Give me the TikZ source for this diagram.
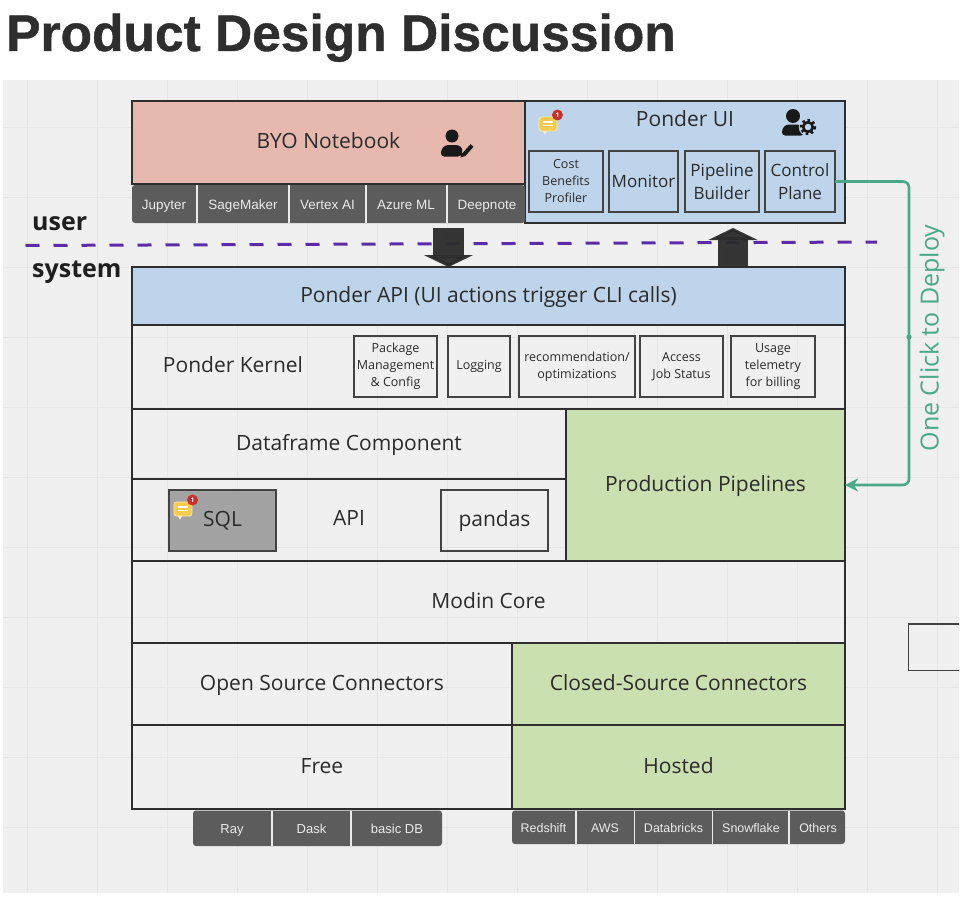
\documentclass[tikz,border=0pt]{standalone}
\usepackage{fontspec}
\setmainfont{Open Sans}
\newfontfamily\titlefont[BoldFeatures={FakeBold=0.8}]{Liberation Sans}
\newfontfamily\tabfont{Liberation Sans}
\usetikzlibrary{arrows.meta,calc}
\definecolor{canvas}{HTML}{F0F0F0}
\definecolor{gridc}{HTML}{E6E6E6}
\definecolor{edge}{HTML}{2E2E2E}
\definecolor{inkc}{HTML}{2B2B2B}
\definecolor{salmon}{HTML}{E6B8AE}
\definecolor{skyb}{HTML}{BDD4EB}
\definecolor{leaf}{HTML}{CBE0B0}
\definecolor{tabc}{HTML}{5C5C5C}
\definecolor{tabtxt}{HTML}{EBEBEB}
\definecolor{sqlc}{HTML}{A3A3A3}
\definecolor{teal}{HTML}{4BA888}
\definecolor{purp}{HTML}{5B2CA6}
\definecolor{yel}{HTML}{F7CB4D}
\definecolor{redb}{HTML}{C9302C}
\tikzset{
  x=1pt,y=-1pt,
  base/.style={anchor=north west,inner sep=0pt,outer sep=0pt,align=center,text=inkc},
  bigtxt/.style={font=\fontsize{21}{26}\selectfont,text height=16.5pt,text depth=3.5pt},
  boxedtxt/.style={font=\fontsize{21}{26}\selectfont,text height=15.5pt,text depth=4.5pt},
  section/.style={base,draw=edge,line width=2.5pt,bigtxt},
  sub/.style={base,draw=edge!90!white,line width=1.7pt},
  smalltxt/.style={font=\fontsize{12.5}{17}\selectfont},
  midtxt/.style={font=\fontsize{17}{23}\selectfont},
  free/.style={inner sep=0pt,text=inkc,bigtxt},
  tabtop/.style={anchor=base,inner sep=0pt,text=tabtxt,font=\tabfont\fontsize{13.5}{16}\selectfont},
  tableft/.style={anchor=base,inner sep=0pt,text=tabtxt,font=\tabfont\fontsize{13}{16}\selectfont},
  tabright/.style={anchor=base,inner sep=0pt,text=tabtxt,font=\tabfont\fontsize{12.5}{16}\selectfont},
  tabgap/.style={draw=tabtxt,line width=1.4pt},
  side/.style={anchor=base west,inner sep=0pt,text=black!88,font=\bfseries\fontsize{25}{30}\selectfont},
  block/.style={draw=inkc,line width=30.5pt,draw opacity=.95,fill opacity=.95},
  iconink/.style={fill=black!90}
}
\newcommand{\bx}[7]{%
  \pgfmathsetmacro{\bw}{#4-#2}\pgfmathsetmacro{\bh}{#5-#3}%
  \node[#6,minimum width=\bw pt,minimum height=\bh pt] (#1) at (#2,#3) {#7};}
\newcommand{\noteicon}[2]{%
  \begin{scope}[shift={(#1,#2)}]
    \fill[white!70!yel] (3,13) -- (9,13) -- (6,17.5) -- cycle;
    \fill[yel,draw=white!60!yel,line width=.8pt,rounded corners=2.5pt] (0,0) rectangle (18,14);
    \draw[white,line width=1.1pt] (4,5) -- (14,5) (4,8.5) -- (14,8.5);
    \fill[redb] (18.5,-2) circle (5.5);
    \node[inner sep=0pt,text=white,font=\bfseries\fontsize{6.5}{7}\selectfont] at (18.5,-2) {1};
  \end{scope}}
\begin{document}
\begin{tikzpicture}
\useasboundingbox (0,0) rectangle (964,899);
\fill[white] (0,0) rectangle (964,899);
\fill[canvas] (3,80) rectangle (959,893);
\foreach \gx in {27,97,...,937} \draw[gridc,line width=.8pt] (\gx,80) -- (\gx,893);
\foreach \gy in {127,197,...,827} \draw[gridc,line width=.8pt] (3,\gy) -- (959,\gy);

\node[anchor=base west,inner sep=0pt,text=black!82,font=\titlefont\bfseries\fontsize{51.5}{56}\selectfont] (title) at (6,51) {Product Design Discussion};

% boxes
\bx{byo}{132}{101}{525}{184}{section,fill=salmon}{}
\node[free] (byolabel) at (328.5,142) {BYO Notebook};
\bx{ui}{525}{101}{845}{223}{section,fill=skyb}{}
\node[free] (uilabel) at (685,120) {Ponder UI};
\bx{cost}{529}{151}{603}{212}{sub,smalltxt}{Cost\\Benefits\\Profiler}
\bx{mon}{609}{151}{678}{212}{sub,midtxt}{Monitor}
\bx{pipe}{685}{151}{759}{212}{sub,midtxt}{Pipeline\\Builder}
\bx{cp}{765}{151}{835}{212}{sub,midtxt}{Control\\Plane}

% tabs top
\fill[tabc,rounded corners=3pt] (132,185) rectangle (525,223);
\node[tabtop] (t1) at (164,209) {Jupyter};
\node[tabtop] (t2) at (243,209) {SageMaker};
\node[tabtop] (t3) at (327.5,209) {Vertex AI};
\node[tabtop] (t4) at (406,209) {Azure ML};
\node[tabtop] (t5) at (487,209) {Deepnote};
\foreach \sx in {197,289,366,447} \draw[tabgap] (\sx,185) -- (\sx,223);

\bx{api}{132}{267}{845}{325}{section,fill=skyb}{Ponder API (UI actions trigger CLI calls)}
\bx{kernel}{132}{325}{845}{409}{section}{}
\node[free] (kernellabel) at (233,366) {Ponder Kernel};
\bx{pkg}{354}{336}{437}{397}{sub,smalltxt}{Package\\Management\\\& Config}
\bx{log}{448}{336}{510}{397}{sub,smalltxt}{Logging}
\bx{rec}{519}{336}{635}{397}{sub,smalltxt}{recommendation/\\optimizations}
\bx{acc}{640}{336}{723}{397}{sub,smalltxt}{Access\\Job Status}
\bx{usage}{731}{336}{815}{397}{sub,smalltxt}{Usage\\telemetry\\for billing}
\bx{df}{132}{409}{566}{479}{section}{Dataframe Component}
\bx{apibox}{132}{479}{566}{561}{section,boxedtxt}{API}
\bx{sql}{169}{490}{276}{551}{sub,fill=sqlc,boxedtxt}{SQL}
\bx{pandas}{441}{490}{548}{551}{sub,boxedtxt}{pandas}
\bx{prod}{566}{409}{845}{561}{section,fill=leaf}{Production Pipelines}
\bx{modin}{132}{561}{845}{643}{section}{Modin Core}
\bx{oss}{132}{643}{512}{725}{section}{Open Source Connectors}
\bx{css}{512}{643}{845}{725}{section,fill=leaf}{Closed-Source Connectors}
\bx{free}{132}{725}{512}{809}{section}{Free}
\bx{hosted}{512}{725}{845}{809}{section,fill=leaf}{Hosted}
\draw[edge!90!white,line width=1.7pt] (959,624) -- (908.5,624) -- (908.5,670.5) -- (959,670.5);

% bottom tabs
\fill[tabc,rounded corners=3pt] (193,810.5) rectangle (442,846);
\node[tableft] (ray) at (232,833) {Ray};
\node[tableft] (dask) at (311.5,833) {Dask};
\node[tableft] (db) at (397,833) {basic DB};
\foreach \sx in {272,351} \draw[tabgap] (\sx,810.5) -- (\sx,846);
\fill[tabc,rounded corners=3pt] (512,810.5) rectangle (845,844);
\node[tabright] (rs) at (543.5,832) {Redshift};
\node[tabright] (aws) at (605,832) {AWS};
\node[tabright] (dbr) at (673.5,832) {Databricks};
\node[tabright] (sf) at (751,832) {Snowflake};
\node[tabright] (oth) at (818,832) {Others};
\foreach \sx in {576,634.5,712.5,789} \draw[tabgap] (\sx,810.5) -- (\sx,844);

% user / system
\draw[purp,line width=3pt,dash pattern=on 14pt off 14pt] (25.5,245.5) -- (877,242);
\node[side] (user) at (32,230) {user};
\node[side] (system) at (32,277.3) {system};

% block arrows
\coordinate (downstart) at (448.5,228);
\coordinate (upstart) at (733,267);
\draw[block,-{Triangle[length=12pt,width=49pt]}] (downstart) -- (downstart |- api.north);
\draw[block,-{Triangle[length=12pt,width=49pt]}] (upstart) -- (733,228);

% deploy connector
\coordinate (bendtop) at (909,181.5);
\coordinate (bendbot) at (909,485);
\draw[teal,line width=2.6pt,rounded corners=6pt,-{Stealth[length=13pt,width=13pt]}] (cp.east) -- (bendtop) -- (bendbot) -- (prod.east);
\fill[teal] (909,337) circle (2.6);
\node[rotate=90,inner sep=0pt,text=teal,font=\fontsize{25}{28}\selectfont] (deploy) at (932,338) {One Click to Deploy};

% icons
\fill[iconink] (452,136) circle (6.5);
\fill[iconink,rounded corners=3pt] (441,156.5) -- (441,150) -- (445,145) -- (459,145) -- (463,149) -- (461,156.5) -- cycle;
\draw[canvas!30!salmon,line width=1pt] (460.5,157) -- (470,146);
\draw[black!90,line width=4pt] (463.5,155) -- (472,145.5);
\fill[black!90] (460.5,157.5) -- (461.5,152.5) -- (465,156) -- cycle;
\fill[iconink] (793,116) circle (7);
\fill[iconink,rounded corners=3pt] (782,135.5) -- (782,129) -- (786,124.5) -- (800,124.5) -- (804,128) -- (804,135.5) -- cycle;
\draw[skyb,fill=skyb] (808,127) circle (9);
\draw[black!90,line width=2.6pt,fill=skyb] (808,127) circle (4.8);
\draw[black!90,line width=2.6pt,dash pattern=on 2.5pt off 2.73pt] (808,127) circle (6.8);
\noteicon{539}{117}
\noteicon{174}{502}
\end{tikzpicture}
\end{document}
